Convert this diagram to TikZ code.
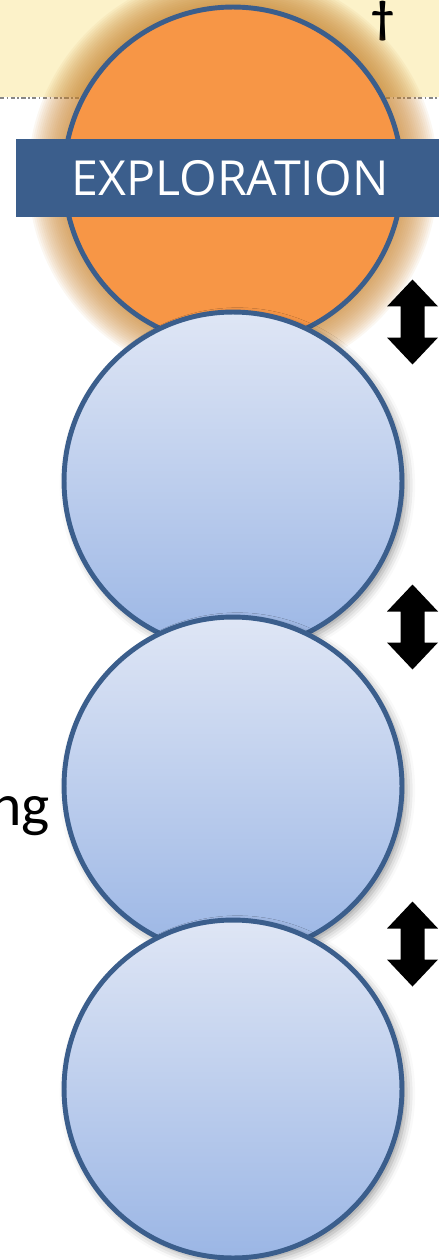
\documentclass[tikz,border=0pt]{standalone}
\usepackage{fontspec}
\setmainfont{Carlito}
\newfontfamily\bannerfont{Open Sans}
\usetikzlibrary{shadows.blur,positioning}

\definecolor{bandyellow}{RGB}{252,242,201}
\definecolor{ballblue}{RGB}{59,94,140}
\definecolor{balltop}{RGB}{223,230,245}
\definecolor{ballbot}{RGB}{155,182,229}
\definecolor{ballorange}{RGB}{247,150,70}
\definecolor{glowtan}{RGB}{200,130,45}
\definecolor{rulegray}{RGB}{135,135,135}

\tikzset{
  ball/.style={circle, minimum size=6.76cm, inner sep=0pt, draw=ballblue, line width=2.8pt},
  blueball/.style={ball, top color=balltop, bottom color=ballbot,
    blur shadow={shadow xshift=2.5pt, shadow yshift=-2.5pt, shadow blur radius=5pt, shadow opacity=40}},
  orangeball/.style={ball, fill=ballorange},
  banner/.style={fill=ballblue, text=white, minimum width=8.56cm, minimum height=1.56cm,
    inner sep=0pt, font=\bannerfont\fontsize{27.5}{32}\selectfont}
}

\begin{document}
\begin{tikzpicture}[x=0.02cm, y=-0.02cm]
      % Page frame
      \useasboundingbox (0,0) rectangle (439,1260);
      \clip (0,0) rectangle (439,1260);
      % Header band and its rule
      \fill[bandyellow] (0,0) rectangle (439,97);
      \draw[rulegray, line width=0.8pt, dash pattern=on 2.4pt off 1.4pt on 0.9pt off 1.4pt] (0,98) -- (439,98);
      \node (dag) at (383,21) {\fontsize{26}{28}\selectfont\bfseries\textdagger};
      % Glow behind the first ball
      \foreach \g in {1,...,18}
        \fill[glowtan, opacity=0.065] (233,176) circle ({169+2*\g});
      % First ball with its banner
      \node[orangeball] (ballA) at (233,176) {};
      \node[banner] (band) at (230,178) {EXPLORATION};
      % Stack of blue balls
      \node[blueball] (ballB) at (233,481) {};
      \node[blueball] (ballC) at (233,786) {};
      \node[blueball] (ballD) at (233,1089) {};
      % Word running in from the left
      \node[anchor=base east, inner sep=0pt, font=\fontsize{34}{40}\selectfont] (tail) at (50,825) {ng};
      % Up-down arrows between the balls
      \foreach \ay in {322,627,944}
        \fill (412.5,\ay) ++(0,-42.5) -- ++(25.5,27) -- ++(-13.5,0) -- ++(0,31)
          -- ++(13.5,0) -- ++(-25.5,27) -- ++(-25.5,-27) -- ++(13.5,0)
          -- ++(0,-31) -- ++(-13.5,0) -- cycle;
    \end{tikzpicture}
\end{document}
